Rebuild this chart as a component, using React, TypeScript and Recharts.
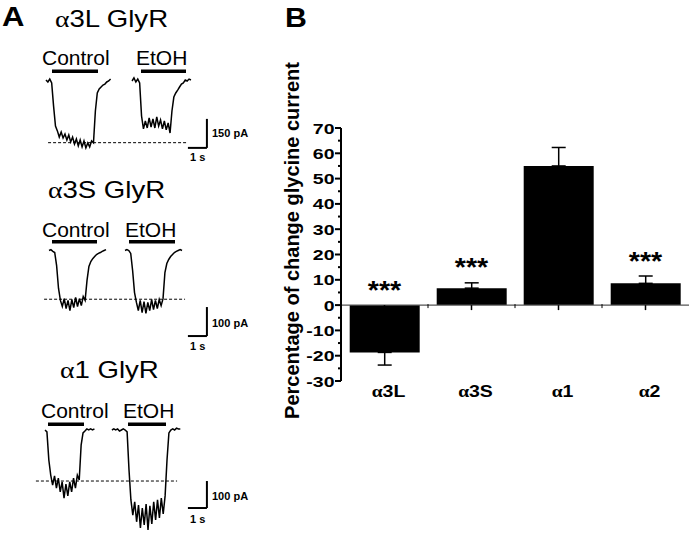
import {
  LineChart,
  Line,
  XAxis,
  YAxis,
  ReferenceLine,
  ComposedChart,
  Bar,
  ErrorBar,
  Scatter,
} from "recharts"

const SANS = "'Liberation Sans', Arial, Helvetica, sans-serif"
const SERIF = "'Liberation Serif', 'DejaVu Serif', serif"

// ---- panel A: example sweeps, current in pA sampled every 0.1 s ----
const SAMPLE_S = 0.1

const a3LControl = [5, -5, 10, -10, -130, -233, -258, -290, -264, -295, -274, -305, -279, -315, -290, -326, -300, -336, -305, -341, -310, -346, -320, -341, -310, -320, -155, -62, -41, -31, -21, -16, -5, 0, 10]
const a3LEtOH = [0, 16, -5, 10, -10, -181, -248, -207, -243, -191, -238, -196, -243, -186, -233, -202, -248, -207, -253, -217, -269, -155, -83, -62, -47, -31, -16, -10, 5, 0, 10, 5]
const a3SControl = [0, 3, -3, -7, -52, -131, -172, -193, -166, -200, -172, -207, -169, -197, -162, -193, -166, -190, -159, -172, -103, -55, -38, -28, -21, -14, -10, -7, -3, 0, 3]
const a3SEtOH = [0, 3, 0, -10, -69, -145, -179, -207, -172, -214, -176, -217, -179, -207, -169, -204, -172, -200, -169, -190, -166, -76, -45, -31, -21, -14, -7, -3, 0, 3, 0]
const a1Control = [0, -7, -111, -167, -204, -170, -215, -178, -229, -192, -252, -200, -244, -192, -229, -178, -215, -167, -185, -56, -11, -4, 4, 0, 4, 0, 4]
const a1EtOH = [0, 4, 0, 4, -4, 0, 4, 0, -7, -148, -259, -315, -266, -340, -278, -363, -289, -352, -274, -370, -281, -348, -266, -333, -259, -326, -252, -311, -244, -111, -11, 0, 4, 0, 7, 4, 4]

// sweep onsets (s) for control / EtOH
const a3LStarts = [2.42, 6.95]
const a3SStarts = [2.58, 6.58]
const a1Starts = [2.37, 5.89]

// control peak amplitude (dashed line), pA
const controlPeaks = [-319, -168, -189]
const scaleBarsPA = [150, 100, 100]

// ---- panel B ----
const receptors = ["α3L", "α3S", "α1", "α2"]
const pctChange = [-18.7, 6.7, 55, 8.6]
const pctSem = [5.0, 2.1, 7.3, 2.9]
const significance = ["***", "***", "", "***"]
const yTicks = [-30, -25, -20, -15, -10, -5, 0, 5, 10, 15, 20, 25, 30, 35, 40, 45, 50, 55, 60, 65, 70]

const PX_PER_S = 19
const ROW_W = 240

interface TraceRowProps {
  top: number
  height: number
  baseY: number
  paPerPx: number
  control: number[]
  etoh: number[]
  starts: number[]
  peak: number
  dash: [number, number]
  barBottom: number
  scalePA: number
}

function toSweep(values: number[], t0: number) {
  return values.map((v, i) => ({ t: Math.round((t0 + i * SAMPLE_S) * 100) / 100, v }))
}

function TraceRow(p: TraceRowProps) {
  const base = p.baseY - p.top
  const barT = 10.89
  return (
    <div style={{ position: "absolute", left: 0, top: p.top }}>
      <LineChart width={ROW_W} height={p.height} margin={{ top: 0, right: 0, bottom: 0, left: 0 }}>
        <XAxis type="number" dataKey="t" domain={[0, ROW_W / PX_PER_S]} hide allowDataOverflow />
        <YAxis
          type="number"
          domain={[-(p.height - base) * p.paPerPx, base * p.paPerPx]}
          hide
          allowDataOverflow
        />
        <ReferenceLine
          segment={[{ x: p.dash[0], y: p.peak }, { x: p.dash[1], y: p.peak }]}
          stroke="#000"
          strokeWidth={1}
          strokeDasharray="3 2"
        />
        <Line
          data={toSweep(p.control, p.starts[0])}
          dataKey="v"
          name="Control"
          type="linear"
          stroke="#000"
          strokeWidth={1.5}
          dot={false}
          isAnimationActive={false}
        />
        <Line
          data={toSweep(p.etoh, p.starts[1])}
          dataKey="v"
          name="EtOH"
          type="linear"
          stroke="#000"
          strokeWidth={1.5}
          dot={false}
          isAnimationActive={false}
        />
        <ReferenceLine
          segment={[{ x: barT, y: p.barBottom }, { x: barT, y: p.barBottom + p.scalePA }]}
          stroke="#000"
          strokeWidth={2}
        />
        <ReferenceLine
          segment={[{ x: barT - 1, y: p.barBottom }, { x: barT, y: p.barBottom }]}
          stroke="#000"
          strokeWidth={2}
        />
      </LineChart>
    </div>
  )
}

// eslint-disable-next-line @typescript-eslint/no-explicit-any
function Txt({ x, y, size, bold, sx = 1, anchor = "start", children }: any) {
  return (
    <text
      transform={`translate(${x},${y}) scale(${sx},1)`}
      fontSize={size}
      fontWeight={bold ? "bold" : "normal"}
      fontFamily={SANS}
      textAnchor={anchor}
      fill="#000"
    >
      {children}
    </text>
  )
}

function Alpha() {
  return <tspan fontFamily={SERIF}>α</tspan>
}

// eslint-disable-next-line @typescript-eslint/no-explicit-any
function ValueTick({ x, y, payload }: any) {
  const major = payload.value % 10 === 0
  return (
    <g>
      <line x1={major ? x : x + 3} x2={x + 6} y1={y} y2={y} stroke="#000" strokeWidth={2} />
      {major && (
        <text
          transform={`translate(${x - 0.5},${y + 5.5}) scale(1.3,1)`}
          textAnchor="end"
          fontSize={15}
          fontWeight="bold"
          fontFamily={SANS}
          fill="#000"
        >
          {payload.value}
        </text>
      )}
    </g>
  )
}

// eslint-disable-next-line @typescript-eslint/no-explicit-any
function ReceptorTick({ x, y, payload }: any) {
  const label = String(payload.value)
  return (
    <text
      transform={`translate(${x + 4},${y + 16}) scale(1.22,1)`}
      textAnchor="middle"
      fontSize={16}
      fontWeight="bold"
      fontFamily={SANS}
      fill="#000"
    >
      <tspan fontFamily={SERIF}>{label[0]}</tspan>
      {label.slice(1)}
    </text>
  )
}

// eslint-disable-next-line @typescript-eslint/no-explicit-any
function ZeroLine(props: any) {
  const { x1, x2, y1 } = props
  const band = (x2 - x1) / receptors.length
  const marks = []
  for (let i = 0; i < receptors.length; i++) {
    const c = x1 + band * (i + 0.5)
    marks.push(<line key={`c${i}`} x1={c} x2={c} y1={y1} y2={y1 + 5} stroke="#000" strokeWidth={1.5} />)
    if (i > 0) {
      const b = x1 + band * i
      marks.push(<line key={`b${i}`} x1={b} x2={b} y1={y1 - 1} y2={y1 + 3} stroke="#000" strokeWidth={1} />)
    }
  }
  return (
    <g>
      <line x1={x1} x2={x2} y1={y1} y2={y1} stroke="#555" strokeWidth={1.2} />
      {marks}
    </g>
  )
}

// eslint-disable-next-line @typescript-eslint/no-explicit-any
function Stars({ cx, cy, payload }: any) {
  if (!payload?.sig) return <g />
  return (
    <text
      transform={`translate(${cx},${cy - 6.5}) scale(1.1,1)`}
      textAnchor="middle"
      fontSize={26}
      fontWeight="bold"
      fontFamily={SANS}
      fill="#000"
    >
      {payload.sig}
    </text>
  )
}

export default function App() {
  const barData = receptors.map((name, i) => ({
    name,
    value: pctChange[i],
    err: pctChange[i] < 0 ? [pctSem[i], 0] : [0, pctSem[i]],
    sig: significance[i],
    sigBase: Math.max(pctChange[i] < 0 ? 0 : pctChange[i] + pctSem[i], 0),
  }))

  return (
    <div style={{ position: "absolute", left: 0, top: 0, width: 690, height: 535, background: "#fff" }}>
      <TraceRow
        top={75}
        height={90}
        baseY={81}
        paPerPx={150 / 29}
        control={a3LControl}
        etoh={a3LEtOH}
        starts={a3LStarts}
        peak={controlPeaks[0]}
        dash={[2.53, 9.89]}
        barBottom={-346}
        scalePA={scaleBarsPA[0]}
      />
      <TraceRow
        top={240}
        height={100}
        baseY={250.5}
        paPerPx={100 / 29}
        control={a3SControl}
        etoh={a3SEtOH}
        starts={a3SStarts}
        peak={controlPeaks[1]}
        dash={[2.32, 9.74]}
        barBottom={-295}
        scalePA={scaleBarsPA[1]}
      />
      <TraceRow
        top={420}
        height={115}
        baseY={430}
        paPerPx={100 / 27}
        control={a1Control}
        etoh={a1EtOH}
        starts={a1Starts}
        peak={controlPeaks[2]}
        dash={[1.89, 9.32]}
        barBottom={-289}
        scalePA={scaleBarsPA[2]}
      />

      <div style={{ position: "absolute", left: 250, top: 100 }}>
        <ComposedChart
          width={440}
          height={320}
          data={barData}
          margin={{ top: 28, right: 1, bottom: 0, left: 0 }}
          barCategoryGap="10%"
        >
          <XAxis
            dataKey="name"
            type="category"
            axisLine={false}
            tickLine={false}
            tickSize={0}
            tickMargin={0}
            height={39}
            interval={0}
            tick={(p) => <ReceptorTick {...p} />}
          />
          <YAxis
            type="number"
            domain={[-30, 70]}
            ticks={yTicks}
            interval={0}
            width={91}
            tickSize={6}
            tickMargin={0}
            tickLine={false}
            axisLine={{ stroke: "#000", strokeWidth: 2 }}
            tick={(p) => <ValueTick {...p} />}
          />
          <Bar dataKey="value" fill="#000" isAnimationActive={false}>
            <ErrorBar dataKey="err" width={7} stroke="#000" strokeWidth={1.5} isAnimationActive={false} />
          </Bar>
          <ReferenceLine y={0} shape={(p: any) => <ZeroLine {...p} />} />
          <Scatter dataKey="sigBase" shape={(p: any) => <Stars {...p} />} isAnimationActive={false} />
        </ComposedChart>
      </div>

      <svg width={690} height={535} style={{ position: "absolute", left: 0, top: 0, pointerEvents: "none" }}>
        <Txt x={2} y={26} size={27} bold sx={1.15}>A</Txt>
        <Txt x={285} y={26.5} size={28} bold sx={1.08}>B</Txt>

        <Txt x={55} y={27} size={23} sx={1.2}><Alpha />3L GlyR</Txt>
        <Txt x={48} y={198} size={23} sx={1.2}><Alpha />3S GlyR</Txt>
        <Txt x={60} y={378} size={23} sx={1.2}><Alpha />1 GlyR</Txt>

        <Txt x={42} y={65} size={21}>Control</Txt>
        <Txt x={136} y={65} size={21}>EtOH</Txt>
        <Txt x={42} y={237} size={21}>Control</Txt>
        <Txt x={125} y={237} size={21}>EtOH</Txt>
        <Txt x={41} y={418} size={21}>Control</Txt>
        <Txt x={123} y={418} size={21}>EtOH</Txt>

        <rect x={52} y={69.5} width={46} height={3.5} fill="#000" />
        <rect x={141} y={69.5} width={45} height={3.5} fill="#000" />
        <rect x={52} y={240} width={45} height={3.5} fill="#000" />
        <rect x={129} y={240} width={46} height={3.5} fill="#000" />
        <rect x={48} y={422.5} width={36} height={3.5} fill="#000" />
        <rect x={128} y={422.5} width={38} height={3.5} fill="#000" />

        <Txt x={212} y={137} size={11} bold>{`${scaleBarsPA[0]} pA`}</Txt>
        <Txt x={190} y={161} size={11} bold>1 s</Txt>
        <Txt x={212} y={327} size={11} bold>{`${scaleBarsPA[1]} pA`}</Txt>
        <Txt x={190} y={350} size={11} bold>1 s</Txt>
        <Txt x={212} y={500} size={11} bold>{`${scaleBarsPA[2]} pA`}</Txt>
        <Txt x={190} y={523} size={11} bold>1 s</Txt>

        <text
          transform="translate(299,240.5) rotate(-90)"
          textAnchor="middle"
          fontSize={20}
          fontWeight="bold"
          fontFamily={SANS}
          fill="#000"
        >
          Percentage of change glycine current
        </text>
      </svg>
    </div>
  )
}
